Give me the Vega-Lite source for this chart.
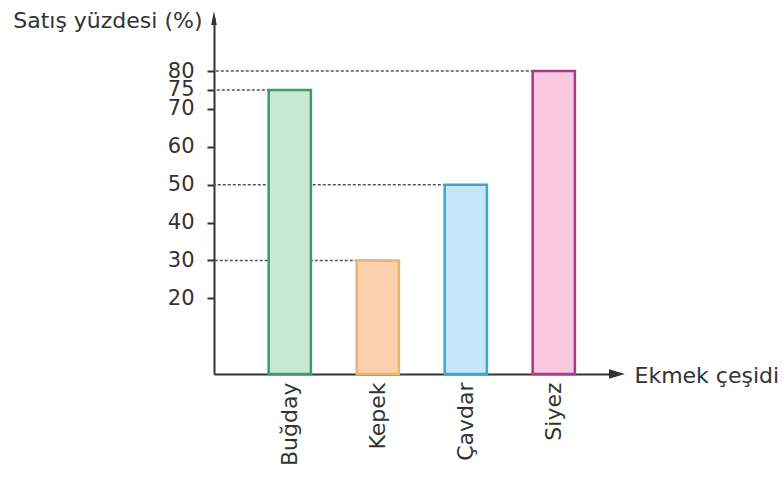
{
  "$schema": "https://vega.github.io/schema/vega-lite/v6.json",
  "width": 403,
  "height": 356,
  "autosize": {"type": "none"},
  "padding": {"left": 214, "top": 18, "right": 165, "bottom": 103},
  "background": "white",
  "config": {"view": {"stroke": null}, "font": "DejaVu Sans"},
  "datasets": {
    "bars": [
      {"ekmek": "Buğday", "yuzde": 75},
      {"ekmek": "Kepek", "yuzde": 30},
      {"ekmek": "Çavdar", "yuzde": 50},
      {"ekmek": "Siyez", "yuzde": 80}
    ],
    "one": [{"k": 1}]
  },
  "layer": [
    {
      "data": {"name": "bars"},
      "mark": {"type": "rule", "strokeDash": [3, 2], "color": "#555555", "strokeWidth": 1.5},
      "encoding": {
        "x": {"field": "ekmek", "type": "nominal", "bandPosition": 0.5},
        "x2": {"value": 0},
        "y": {"field": "yuzde", "type": "quantitative"}
      }
    },
    {
      "data": {"name": "bars"},
      "mark": {"type": "bar", "strokeWidth": 2.5},
      "encoding": {
        "x": {
          "field": "ekmek",
          "type": "nominal",
          "sort": null,
          "scale": {
            "domain": ["Buğday", "Kepek", "Çavdar", "Siyez"],
            "paddingInner": 0.52,
            "paddingOuter": 0.55,
            "align": 0.565
          },
          "axis": {
            "domainColor": "#333333",
            "domainWidth": 2,
            "ticks": false,
            "labelAngle": -90,
            "labelAlign": "right",
            "labelBaseline": "middle",
            "labelFontSize": 22,
            "labelColor": "#333333",
            "labelPadding": 8,
            "title": "Ekmek çeşidi",
            "titleFontSize": 22,
            "titleFontWeight": "normal",
            "titleColor": "#333333",
            "titleAngle": 0,
            "titleAlign": "left",
            "titleBaseline": "alphabetic",
            "titleX": 420,
            "titleY": 8.5
          }
        },
        "y": {
          "field": "yuzde",
          "type": "quantitative",
          "scale": {"domain": [0, 94], "nice": false, "zero": true},
          "axis": {
            "values": [20, 30, 40, 50, 60, 70, 75, 80],
            "grid": false,
            "domainColor": "#333333",
            "domainWidth": 2,
            "tickColor": "#333333",
            "tickWidth": 2,
            "tickSize": 7,
            "labelFontSize": 21,
            "labelColor": "#333333",
            "labelPadding": 13,
            "labelOverlap": false,
            "labelFlush": false,
            "labelBound": false,
            "title": "Satış yüzdesi (%)",
            "titleFontSize": 22,
            "titleFontWeight": "normal",
            "titleColor": "#333333",
            "titleAngle": 0,
            "titleAlign": "right",
            "titleBaseline": "alphabetic",
            "titleX": -12,
            "titleY": 9
          }
        },
        "fill": {
          "field": "ekmek",
          "type": "nominal",
          "scale": {
            "domain": ["Buğday", "Kepek", "Çavdar", "Siyez"],
            "range": ["#c9e8d4", "#fdd0ad", "#c4e6f8", "#fbc8e2"]
          },
          "legend": null
        },
        "stroke": {
          "field": "ekmek",
          "type": "nominal",
          "scale": {
            "domain": ["Buğday", "Kepek", "Çavdar", "Siyez"],
            "range": ["#3e9a6a", "#f0b070", "#3ba8d0", "#a83a86"]
          },
          "legend": null
        }
      }
    },
    {
      "data": {"name": "one"},
      "mark": {"type": "point", "shape": "M 0 -1 L 0.4 1 L -0.4 1 Z", "filled": true, "color": "#333333", "size": 196, "opacity": 1},
      "encoding": {
        "x": {"value": 0},
        "y": {"datum": 94, "type": "quantitative"}
      }
    },
    {
      "data": {"name": "one"},
      "mark": {"type": "point", "shape": "M 1 0 L -1 -0.6 L -1 0.6 Z", "filled": true, "color": "#333333", "size": 256, "opacity": 1},
      "encoding": {
        "x": {"value": "width"},
        "y": {"datum": 0, "type": "quantitative"}
      }
    }
  ]
}
